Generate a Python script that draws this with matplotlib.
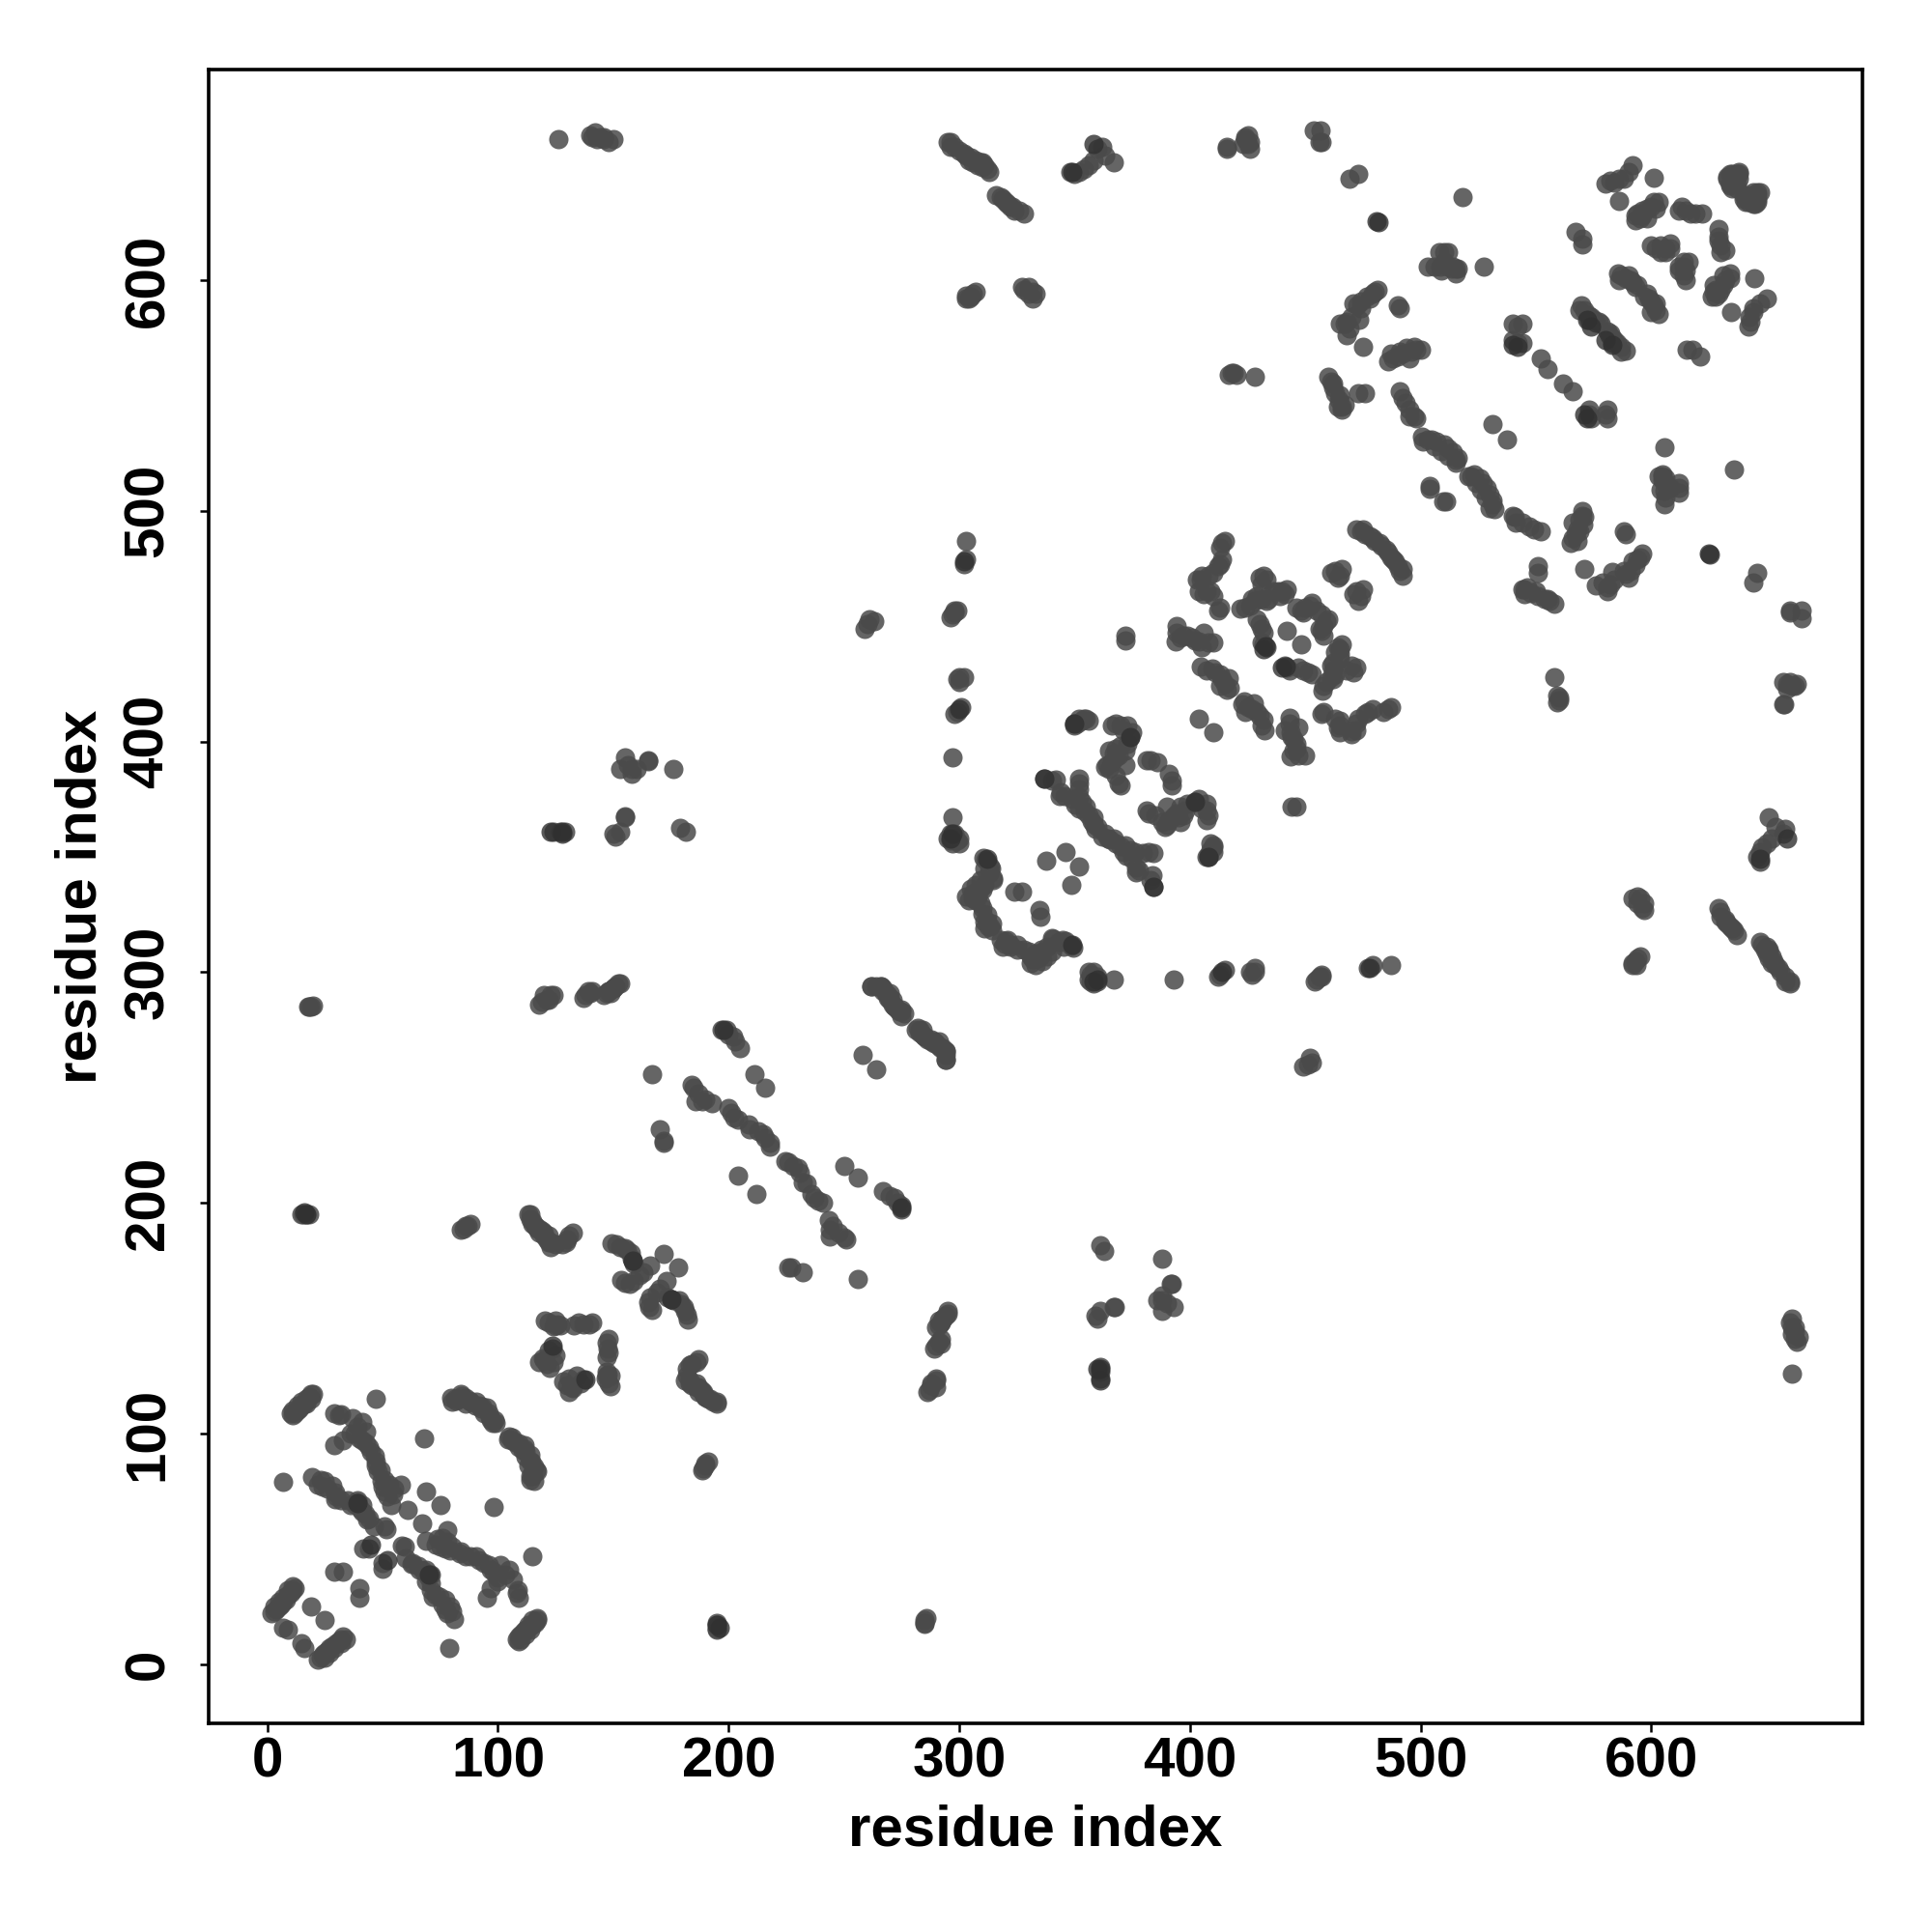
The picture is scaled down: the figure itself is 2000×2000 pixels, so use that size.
import numpy as np
import matplotlib
matplotlib.use("Agg")
import matplotlib.pyplot as plt

# residue contacts (i, j), i < j; the map shows each one on both sides of the diagonal
contacts_n_term = [
    (2, 22), (3, 23), (4, 24), (5, 25), (6, 26), (7, 27), (8, 28), (9, 30), (10, 31), (11, 32), (12, 33),
    (3, 25), (5, 27), (7, 29), (9, 32), (11, 34),
    (7, 16), (9, 15), (19, 25), (29, 40), (33, 40), (41.5, 50), (44, 50), (61, 67), (69, 75), (47, 115), (68, 98), (7, 79),
    (10, 109), (11, 108), (12, 109), (13, 110), (14, 111), (15, 112), (16, 113), (17, 115), (18, 116), (19, 117), (20, 117),
    (11, 110), (13, 112), (15, 114), (17, 113), (19, 115),
    (29, 109), (32, 108.6), (31, 108), (37, 106.6), (41, 105), (29, 95), (33, 97), (37.7, 100), (36, 100), (40, 98),
    (41, 97), (44, 94), (43, 96), (46.7, 90.5), (48, 83.5), (47, 86), (49.5, 79.3), (53, 78), (58, 78), (54.4, 73.8),
    (53.7, 68.9), (51, 75), (39, 103), (43, 101), (45, 92), (47, 88), (49, 84), (51, 80), (55, 76), (50, 77), (52, 73),
    (19.5, 81), (23, 80), (25, 79.4), (28, 77.3), (29.3, 74.5), (29.3, 71.7), (35, 71), (39, 70.3), (38, 69.5),
    (40.5, 67.5), (42.5, 65.4), (43.3, 62.6), (51, 59.8), (51.6, 58.4), (39, 71), (41, 69),
    (22, 78), (24, 77), (26, 76), (30, 73), (32, 71), (36, 69), (41, 66), (44, 63), (46, 60),
    (79.5, 115.6), (81.6, 114.2), (83.7, 117), (85.8, 115.6), (84.2, 116.5), (81.4, 115), (87.7, 114.4), (88, 114),
    (90.7, 114), (92.8, 110.8), (93.3, 111.6), (95, 111.5), (96, 108.9), (96.3, 107.3), (98.4, 105.9), (97.7, 104.5), (98.9, 104.7),
    (80, 114), (83, 115), (86, 113), (90, 112), (92, 112), (94, 109), (97, 106),
]
contacts_ring = [
    (120.5, 149), (122, 148), (125, 149), (125.6, 147.5), (124, 146.5), (125, 147), (127, 147),
    (133, 147), (135, 148), (137, 147.5), (139.4, 147.2), (141, 148),
    (119.5, 132.5), (121, 130), (122.6, 128.4), (123.5, 137), (122, 136), (125, 134), (124, 131), (120, 132), (118, 131),
    (149.3, 182.4), (151.4, 182), (153, 181), (155, 180.6), (156, 179.5), (157.7, 178.5), (158.4, 175), (159, 173.6), (158, 176),
    (153.5, 166.6), (155, 165.5), (157, 165), (159, 166), (161.2, 168.7), (163, 170), (166, 172.9), (172, 178),
    (183, 129.6), (187, 132.4), (181, 123), (183, 122), (184, 121), (186, 120), (187, 118), (189, 117), (190, 116), (192, 115), (195, 114),
    (84, 188.5), (85, 189), (86, 190), (87, 190), (88, 191), (15.5, 195), (17, 195), (18, 195),
    (113, 195), (114, 193), (115, 191), (116, 190), (118, 189), (119, 188), (120, 187), (122, 186), (123, 183), (125, 182), (128, 182), (131, 186), (130, 184),
]
contacts_helix = [
    (184, 251), (185, 250), (187, 247.5), (185.6, 244), (188.4, 244), (192.6, 243.3), (190, 245),
    (200, 241), (201, 239), (202.4, 237), (204, 236), (208.6, 234), (209, 232), (213, 231), (215, 230), (216, 228), (217.7, 226), (218, 224.5),
    (170, 232), (172, 227), (172, 226), (204, 212), (167, 256), (211, 256), (216, 250), (258, 264),
    (197, 275), (199, 275), (200, 273), (202, 272), (203, 270), (205, 267),
    (262, 294), (264, 294), (266, 294), (267, 292), (269, 289), (270, 291), (271, 288), (272, 285), (273, 284), (275, 283), (276, 282),
    (281, 275), (283, 274), (284, 275), (285, 272), (286, 271), (288, 270), (289, 270), (290, 269), (291, 268), (293, 267), (294, 266), (294, 262),
    (118, 286), (119, 287), (121, 288), (123, 290), (124, 290), (137, 289), (138, 290), (140, 291), (141, 292),
    (146, 290), (147, 291), (148, 292), (150, 293), (151, 294), (152, 295), (153, 295), (149, 291),
    (17.6, 285), (19, 285), (20, 285.7), (18, 285), (15, 195), (259, 449), (260, 451), (261, 453), (263, 452),
]
contacts_far = [
    (126, 661), (140, 663), (142, 664), (143, 661), (146, 661), (150, 661), (144, 662), (146, 662), (148, 660), (141, 662),
    (124, 361), (127, 361), (129, 361),
    (155, 393), (156.5, 390), (158, 386), (160, 388), (165, 392), (176, 388), (151, 359), (155, 367.5), (153, 361), (179, 362.7), (181.6, 361),
    (150, 360), (155, 367), (158, 388), (153, 388), (165, 391.6), (120, 290), (122, 288), (139, 292), (150, 293), (148, 292),
    (295, 660), (296, 660), (298, 658), (300, 656), (302, 655), (303, 654), (305, 653), (307, 652), (309, 651), (310, 649), (312, 648), (311, 650),
    (296, 658), (304, 652), (306, 651), (308, 650), (310, 651), (313, 647),
    (316, 637), (319, 635), (321, 633), (323, 632), (326, 630), (318, 636), (320, 634), (322, 632), (324, 630), (328, 629),
    (303, 593.5), (304, 592), (306, 594), (303, 592), (305, 593), (307, 595),
    (327, 597), (332, 595), (330, 594), (328, 596), (330, 597), (333, 594),
    (348, 647), (350, 646), (352, 647), (354, 648), (356, 650), (358, 652), (360, 657), (362, 658), (363, 654), (367, 651),
    (416, 657), (424, 661), (426, 657), (425, 659), (456, 660), (456.7, 665), (453.5, 665), (457, 660), (469, 644), (473, 646), (518, 636),
    (418, 560), (420, 559), (428, 558), (419, 560), (417, 559), (416, 657.6), (423, 659), (425, 663), (424, 662), (426, 660),
    (296, 360), (297, 358), (299, 357), (300, 356), (296, 357), (295, 358), (298, 360), (300, 358), (297, 356),
    (297, 367), (297, 393), (298, 412), (299, 413), (301, 415), (299, 427), (300, 428), (300, 426), (302, 428),
    (297, 455), (296, 454), (298, 457), (298, 456), (299, 457), (302, 477), (303, 479), (303, 487), (332, 592),
]
contacts_middle = [
    (310.6, 349.4), (313.4, 346), (312, 348), (314.8, 340), (313, 344), (311, 338), (309, 336), (307, 335), (305.7, 332), (304, 331), (306, 334), (308, 333),
    (310, 328), (312, 325), (313.4, 320), (311, 322), (314, 321), (312.5, 319.7), (310, 325.3), (306.9, 331), (310, 335.7), (314.5, 340.6), (313.8, 344.8), (311.3, 348.7),
    (313, 343), (311, 345), (309, 340), (307, 338), (305, 336), (303, 333), (312, 322), (309, 330), (314, 318), (311, 319),
    (324, 335), (327, 334.8), (337.8, 348.5), (346, 352),
    (337, 384), (342, 383.6), (340, 383), (343.4, 376.6), (345.5, 376.6), (344, 378), (351.8, 384), (352, 382), (351.8, 379.4), (350.4, 372.5), (352, 371),
    (354.6, 369.7), (356, 368), (357.4, 365.5), (353, 374), (358, 364.4), (352, 376), (349, 375), (355, 372), (358, 367), (360, 363), (359, 362),
    (350, 407), (351, 408), (353, 409), (354, 410), (355, 410), (350, 408), (352, 410), (356, 409),
    (366, 407), (368, 408), (370, 407), (373, 407), (371, 405), (374, 402), (373, 399), (372, 396), (375, 404),
    (369, 394), (367.8, 393), (366, 391), (364, 390), (363, 389), (365, 388), (368, 385), (369, 382), (370, 381), (365, 396), (368, 397), (370, 398), (367, 395), (372, 390),
    (381, 392), (383, 392), (386, 391), (404, 410), (372, 444), (372, 446),
    (394, 450), (394, 447), (393.6, 443.6), (396, 445), (397, 446), (399, 446), (401, 445), (402, 444), (404, 443.6), (405, 441), (406, 447), (408, 443), (410.3, 443),
    (404.7, 432.4), (407, 431), (409.6, 431.7), (411, 430), (413, 429), (414, 427), (416.6, 427.5), (413, 424), (416, 422.6), (417.3, 423.3), (415, 425),
    (403, 470), (405, 472), (407, 465), (408, 472), (410, 473), (412, 476), (413, 477), (414, 479), (414, 486), (415, 487), (413, 484), (413, 458), (412, 457),
    (404, 465), (406, 464), (410, 463), (409, 465), (404.5, 470),
    (422, 457.5), (424, 458), (426, 459), (428, 461), (427, 462), (429, 463), (431, 462), (433, 461), (434, 462), (430, 471), (432, 472), (431, 468), (433, 470),
    (436, 465), (438, 465), (440, 465), (442, 466), (441, 464), (439, 463), (430, 451), (429, 453), (431, 449), (432, 447), (431, 443), (433, 441), (432, 442),
    (442, 448), (450, 458), (448, 457), (452, 459), (449, 456), (453, 460), (446, 458), (455, 457),
]
contacts_c_term = [
    (472, 492), (474, 491), (475, 492), (476, 490), (478, 489), (479, 488), (480, 487), (482, 486), (483, 485),
    (461, 473), (463, 474), (465, 472), (466, 475), (464, 471), (476, 551), (475, 571), (466, 544),
    (503, 605.7), (508, 612), (512, 612), (510, 612), (508.6, 605.7), (513.4, 605), (516, 605), (515, 603), (514, 606), (527.4, 605.7),
    (506, 606), (510, 608), (512, 606), (515, 605), (509, 604),
    (481.4, 596), (480, 595), (476.6, 593), (478, 592), (472.6, 589), (474, 588), (473.4, 583), (467, 581), (469, 579), (467.8, 576), (491, 588), (490, 589),
    (465, 581), (468, 582), (470, 584), (471, 590), (474, 591), (479, 594),
    (486, 565), (488, 566), (490, 567), (492, 568), (494, 570.5), (497.4, 571), (500, 570), (496, 569), (487, 568), (491, 569), (495, 566), (498, 570),
    (459.8, 558), (461, 556), (462, 553.6), (463, 551), (464.5, 548), (466, 545), (473, 551), (462, 555), (465, 550), (467, 546), (464, 545),
    (491, 552), (492, 549), (493.4, 547), (495, 544), (497.4, 540.8), (495, 541), (498, 540),
    (500.6, 532), (503, 531), (504.6, 531), (507, 530), (510, 528.8), (512, 527), (514, 525.6), (515, 522), (515, 520.8), (504, 511), (504, 509.6),
    (501, 530), (506, 528), (509, 526), (512, 524), (516, 523),
    (531, 537.6), (552, 566), (555, 561.6), (540, 581), (542, 580), (544, 581), (540, 574), (542, 573), (544, 573),
    (569.5, 589), (571, 587), (572.7, 585), (574, 584), (576, 581.7), (575, 583), (577, 582), (569, 587), (573, 583), (578, 581),
    (567, 621), (570, 615.3), (570, 618), (585.5, 603), (587, 602), (589, 601), (591, 600), (592, 599), (594, 598), (586, 600), (590, 602), (593, 597),
    (580, 642), (582, 643), (584, 642.5), (586, 644), (588, 644), (590, 647), (592, 650), (586, 634.5), (601, 644.5),
    (593, 626), (595, 627), (594, 629), (596, 630), (598, 631), (600, 632), (601, 634), (603, 634), (598, 627), (596, 628), (593, 628), (602, 631),
    (612, 630), (613, 632), (615, 630), (617, 629), (619, 629), (622, 629),
    (633, 645), (635, 646), (637, 646), (638, 647), (634, 641), (636, 642), (640, 635), (642, 637), (644, 636), (646, 638), (646, 634), (642, 634), (636, 643), (638, 644), (640, 637), (644, 633),
    (600, 615), (602, 614), (604, 615), (606, 614), (608, 616), (606, 612), (604, 612), (608, 614),
]
# the few contacts that stand out darker in the map
contacts_dark = [
    (158.4, 175), (123.5, 138), (128, 361), (128, 360), (432.7, 441.4), (432, 440), (481, 625.5), (481.5, 625), (198, 275),
    (312, 349), (350, 408), (374, 402), (337, 384), (358, 296), (360, 297), (302, 478), (300, 414), (39, 70), (52, 45), (361, 123),
    (572, 583), (574, 580), (571, 542), (572, 540), (647, 349), (659, 358), (17, 195), (196, 16),
]

tick_values = [0, 100, 200, 300, 400, 500, 600]
axis_label = "residue index"

contacts = np.array(contacts_n_term + contacts_ring + contacts_helix + contacts_far + contacts_middle + contacts_c_term)
res_i = contacts[:, 0]
res_j = contacts[:, 1]
dark = np.array(contacts_dark)

plt.rcParams['font.family'] = ['Liberation Sans', 'DejaVu Sans']

fig = plt.figure(figsize=(10, 10), dpi=200)
ax = fig.add_axes([216 / 2000, 216 / 2000, 1712 / 2000, 1712 / 2000])

ax.scatter(np.r_[res_i, res_j], np.r_[res_j, res_i], s=52, color="#4a4a4a", alpha=0.85, linewidths=0)
ax.scatter(np.r_[dark[:, 0], dark[:, 1]], np.r_[dark[:, 1], dark[:, 0]], s=52, color="#303030", alpha=0.8, linewidths=0)

ax.set_xlim(-25.4, 691.5)
ax.set_ylim(-25.6, 691.3)
ax.set_xticks(tick_values)
ax.set_yticks(tick_values)

ax.tick_params(axis='x', length=3.2, width=0.9, pad=1.5, labelsize=21)
ax.tick_params(axis='y', length=3.2, width=0.9, pad=9.4, labelsize=21)
for lab in ax.get_xticklabels():
    lab.set_fontweight('bold')
for lab in ax.get_yticklabels():
    lab.set_fontweight('bold')
    lab.set_rotation(90)
    lab.set_va('center')

for side in ax.spines.values():
    side.set_linewidth(1.3)

ax.set_xlabel(axis_label, fontsize=21.6, fontweight='bold')
ax.set_ylabel(axis_label, fontsize=21.6, fontweight='bold')
ax.xaxis.set_label_coords(0.5, -0.0486)
ax.yaxis.set_label_coords(-0.0608, 0.5)

fig.savefig("out.png", dpi=200, facecolor="white")
